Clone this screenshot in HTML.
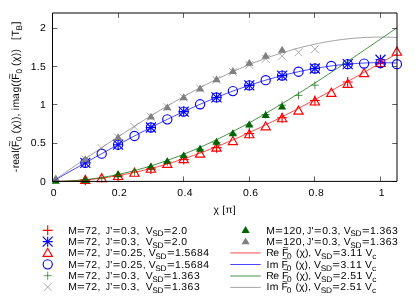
<!DOCTYPE html>
<html><head><meta charset="utf-8"><title>plot</title>
<style>
html,body{margin:0;padding:0;background:#fff;}
svg{display:block;will-change:transform;}
text{font-family:"Liberation Sans",sans-serif;white-space:pre;text-rendering:geometricPrecision;}
</style></head>
<body>
<svg width="415" height="297" viewBox="0 0 415 297" xml:space="preserve">
<rect width="415" height="297" fill="#fff"/>
<g stroke="#000" fill="none">
<path d="M52.5 181.4v-5M52.5 13v5M118.5 13v5M183.5 181.4v-5M183.5 13v5M249.5 181.4v-5M249.5 13v5M314.5 181.4v-5M314.5 13v5M380.5 181.4v-5M380.5 13v5M52.5 181.5h4.8M397 181.5h-4.8M52.5 143.5h4.8M397 143.5h-4.8M52.5 104.5h4.8M397 104.5h-4.8M52.5 66.5h4.8M397 66.5h-4.8M52.5 28.5h4.8M397 28.5h-4.8" stroke-width="0.62"/>
</g>
<g fill="none" stroke-width="1.15">
<path d="M80.3 180.13h10M85.3 175.13v10" stroke="#ff0000"/>
<path d="M113.1 175.98h10M118.1 170.98v10" stroke="#ff0000"/>
<path d="M145.9 169.05h10M150.9 164.05v10" stroke="#ff0000"/>
<path d="M178.7 159.53h10M183.7 154.53v10" stroke="#ff0000"/>
<path d="M211.5 147.66h10M216.5 142.66v10" stroke="#ff0000"/>
<path d="M244.3 133.53h10M249.3 128.53v10" stroke="#ff0000"/>
<path d="M277.1 117.7h10M282.1 112.7v10" stroke="#ff0000"/>
<path d="M309.9 100.54h10M314.9 95.54v10" stroke="#ff0000"/>
<path d="M342.7 81.97h10M347.7 76.97v10" stroke="#ff0000"/>
<path d="M375.5 63.44h10M380.5 58.44v10" stroke="#ff0000"/>
<path d="M80.3 162.83h10M85.3 157.83v10" stroke="#0000ff"/><path d="M80.3 157.83l10 10M80.3 167.83l10 -10" stroke="#0000ff"/>
<path d="M113.1 144.71h10M118.1 139.71v10" stroke="#0000ff"/><path d="M113.1 139.71l10 10M113.1 149.71l10 -10" stroke="#0000ff"/>
<path d="M145.9 127.5h10M150.9 122.5v10" stroke="#0000ff"/><path d="M145.9 122.5l10 10M145.9 132.5l10 -10" stroke="#0000ff"/>
<path d="M178.7 111.61h10M183.7 106.61v10" stroke="#0000ff"/><path d="M178.7 106.61l10 10M178.7 116.61l10 -10" stroke="#0000ff"/>
<path d="M211.5 97.45h10M216.5 92.45v10" stroke="#0000ff"/><path d="M211.5 92.45l10 10M211.5 102.45l10 -10" stroke="#0000ff"/>
<path d="M244.3 85.35h10M249.3 80.35v10" stroke="#0000ff"/><path d="M244.3 80.35l10 10M244.3 90.35l10 -10" stroke="#0000ff"/>
<path d="M277.1 75.61h10M282.1 70.61v10" stroke="#0000ff"/><path d="M277.1 70.61l10 10M277.1 80.61l10 -10" stroke="#0000ff"/>
<path d="M309.9 68.48h10M314.9 63.48v10" stroke="#0000ff"/><path d="M309.9 63.48l10 10M309.9 73.48l10 -10" stroke="#0000ff"/>
<path d="M342.7 64.13h10M347.7 59.13v10" stroke="#0000ff"/><path d="M342.7 59.13l10 10M342.7 69.13l10 -10" stroke="#0000ff"/>
<path d="M375.5 59.76h10M380.5 54.76v10" stroke="#0000ff"/><path d="M375.5 54.76l10 10M375.5 64.76l10 -10" stroke="#0000ff"/>
<path d="M85.3 175.42L80.65 183.52L89.95 183.52Z" stroke="#ff0000"/>
<path d="M101.7 173.58L97.05 181.68L106.35 181.68Z" stroke="#ff0000"/>
<path d="M118.1 171.43L113.45 179.53L122.75 179.53Z" stroke="#ff0000"/>
<path d="M134.5 168.14L129.85 176.24L139.15 176.24Z" stroke="#ff0000"/>
<path d="M150.9 164.16L146.25 172.26L155.55 172.26Z" stroke="#ff0000"/>
<path d="M167.3 159.33L162.65 167.43L171.95 167.43Z" stroke="#ff0000"/>
<path d="M183.7 154.51L179.05 162.61L188.35 162.61Z" stroke="#ff0000"/>
<path d="M200.1 148.99L195.45 157.09L204.75 157.09Z" stroke="#ff0000"/>
<path d="M216.5 143.02L211.85 151.12L221.15 151.12Z" stroke="#ff0000"/>
<path d="M232.9 136.58L228.25 144.68L237.55 144.68Z" stroke="#ff0000"/>
<path d="M249.3 129.69L244.65 137.79L253.95 137.79Z" stroke="#ff0000"/>
<path d="M265.7 121.8L261.05 129.9L270.35 129.9Z" stroke="#ff0000"/>
<path d="M282.1 113.6L277.45 121.7L286.75 121.7Z" stroke="#ff0000"/>
<path d="M298.5 106.09L293.85 114.19L303.15 114.19Z" stroke="#ff0000"/>
<path d="M314.9 96.9L310.25 105L319.55 105Z" stroke="#ff0000"/>
<path d="M331.3 88.25L326.65 96.35L335.95 96.35Z" stroke="#ff0000"/>
<path d="M347.7 79.28L343.05 87.38L352.35 87.38Z" stroke="#ff0000"/>
<path d="M364.1 68.56L359.45 76.66L368.75 76.66Z" stroke="#ff0000"/>
<path d="M380.5 58.37L375.85 66.47L385.15 66.47Z" stroke="#ff0000"/>
<path d="M396.9 47.11L392.25 55.21L401.55 55.21Z" stroke="#ff0000"/>
<circle cx="85.3" cy="162.83" r="4.6" stroke="#0000ff"/>
<circle cx="101.7" cy="153.68" r="4.6" stroke="#0000ff"/>
<circle cx="118.1" cy="144.71" r="4.6" stroke="#0000ff"/>
<circle cx="134.5" cy="135.96" r="4.6" stroke="#0000ff"/>
<circle cx="150.9" cy="127.5" r="4.6" stroke="#0000ff"/>
<circle cx="167.3" cy="119.36" r="4.6" stroke="#0000ff"/>
<circle cx="183.7" cy="111.61" r="4.6" stroke="#0000ff"/>
<circle cx="200.1" cy="104.29" r="4.6" stroke="#0000ff"/>
<circle cx="216.5" cy="97.45" r="4.6" stroke="#0000ff"/>
<circle cx="232.9" cy="91.12" r="4.6" stroke="#0000ff"/>
<circle cx="249.3" cy="85.35" r="4.6" stroke="#0000ff"/>
<circle cx="265.7" cy="80.17" r="4.6" stroke="#0000ff"/>
<circle cx="282.1" cy="75.61" r="4.6" stroke="#0000ff"/>
<circle cx="298.5" cy="71.71" r="4.6" stroke="#0000ff"/>
<circle cx="314.9" cy="68.48" r="4.6" stroke="#0000ff"/>
<circle cx="331.3" cy="65.95" r="4.6" stroke="#0000ff"/>
<circle cx="347.7" cy="64.13" r="4.6" stroke="#0000ff"/>
<circle cx="364.1" cy="63.59" r="4.6" stroke="#0000ff"/>
<circle cx="380.5" cy="63.05" r="4.6" stroke="#0000ff"/>
<circle cx="396.9" cy="64.2" r="4.6" stroke="#0000ff"/>
<path d="M81.3 180.63h8M85.3 176.63v8" stroke="#006400" stroke-width="0.65"/>
<path d="M97.7 178.57h8M101.7 174.57v8" stroke="#006400" stroke-width="0.65"/>
<path d="M114.1 175.04h8M118.1 171.04v8" stroke="#006400" stroke-width="0.65"/>
<path d="M130.5 171.9h8M134.5 167.9v8" stroke="#006400" stroke-width="0.65"/>
<path d="M146.9 167.38h8M150.9 163.38v8" stroke="#006400" stroke-width="0.65"/>
<path d="M163.3 161.94h8M167.3 157.94v8" stroke="#006400" stroke-width="0.65"/>
<path d="M179.7 156.2h8M183.7 152.2v8" stroke="#006400" stroke-width="0.65"/>
<path d="M196.1 149.61h8M200.1 145.61v8" stroke="#006400" stroke-width="0.65"/>
<path d="M212.5 142.53h8M216.5 138.53v8" stroke="#006400" stroke-width="0.65"/>
<path d="M228.9 134.06h8M232.9 130.06v8" stroke="#006400" stroke-width="0.65"/>
<path d="M245.3 125.33h8M249.3 121.33v8" stroke="#006400" stroke-width="0.65"/>
<path d="M261.7 114.53h8M265.7 110.53v8" stroke="#006400" stroke-width="0.65"/>
<path d="M278.1 105.18h8M282.1 101.18v8" stroke="#006400" stroke-width="0.65"/>
<path d="M294.5 95.38h8M298.5 91.38v8" stroke="#006400" stroke-width="0.65"/>
<path d="M310.9 85.19h8M314.9 81.19v8" stroke="#006400" stroke-width="0.65"/>
<path d="M81.3 155.34l8 8M81.3 163.34l8 -8" stroke="#808080" stroke-width="0.65"/>
<path d="M97.7 144.31l8 8M97.7 152.31l8 -8" stroke="#808080" stroke-width="0.65"/>
<path d="M114.1 133.58l8 8M114.1 141.58l8 -8" stroke="#808080" stroke-width="0.65"/>
<path d="M130.5 122.86l8 8M130.5 130.86l8 -8" stroke="#808080" stroke-width="0.65"/>
<path d="M146.9 112.83l8 8M146.9 120.83l8 -8" stroke="#808080" stroke-width="0.65"/>
<path d="M163.3 103.1l8 8M163.3 111.1l8 -8" stroke="#808080" stroke-width="0.65"/>
<path d="M179.7 93.52l8 8M179.7 101.52l8 -8" stroke="#808080" stroke-width="0.65"/>
<path d="M196.1 84.56l8 8M196.1 92.56l8 -8" stroke="#808080" stroke-width="0.65"/>
<path d="M212.5 75.91l8 8M212.5 83.91l8 -8" stroke="#808080" stroke-width="0.65"/>
<path d="M228.9 67.86l8 8M228.9 75.86l8 -8" stroke="#808080" stroke-width="0.65"/>
<path d="M245.3 60.97l8 8M245.3 68.97l8 -8" stroke="#808080" stroke-width="0.65"/>
<path d="M261.7 54.84l8 8M261.7 62.84l8 -8" stroke="#808080" stroke-width="0.65"/>
<path d="M278.1 52.16l8 8M278.1 60.16l8 -8" stroke="#808080" stroke-width="0.65"/>
<path d="M294.5 48.33l8 8M294.5 56.33l8 -8" stroke="#808080" stroke-width="0.65"/>
<path d="M310.9 45.19l8 8M310.9 53.19l8 -8" stroke="#808080" stroke-width="0.65"/>
<path d="M55.78 176.95L51.66 183.83L59.9 183.83Z" fill="#006400" stroke="none"/>
<path d="M85.3 176.1L81.18 182.99L89.42 182.99Z" fill="#006400" stroke="none"/>
<path d="M118.1 170.28L113.98 177.17L122.22 177.17Z" fill="#006400" stroke="none"/>
<path d="M150.9 162.62L146.78 169.51L155.02 169.51Z" fill="#006400" stroke="none"/>
<path d="M167.3 157.18L163.18 164.07L171.42 164.07Z" fill="#006400" stroke="none"/>
<path d="M183.7 151.44L179.58 158.32L187.82 158.32Z" fill="#006400" stroke="none"/>
<path d="M200.1 144.85L195.98 151.74L204.22 151.74Z" fill="#006400" stroke="none"/>
<path d="M216.5 137.77L212.38 144.65L220.62 144.65Z" fill="#006400" stroke="none"/>
<path d="M232.9 129.3L228.78 136.19L237.02 136.19Z" fill="#006400" stroke="none"/>
<path d="M249.3 120.57L245.18 127.45L253.42 127.45Z" fill="#006400" stroke="none"/>
<path d="M265.7 111.07L261.58 117.96L269.82 117.96Z" fill="#006400" stroke="none"/>
<path d="M282.1 102.72L277.98 109.61L286.22 109.61Z" fill="#006400" stroke="none"/>
<path d="M55.78 174.5L51.66 181.38L59.9 181.38Z" fill="#808080" stroke="none"/>
<path d="M85.3 155.27L81.18 162.15L89.42 162.15Z" fill="#808080" stroke="none"/>
<path d="M118.1 133.36L113.98 140.25L122.22 140.25Z" fill="#808080" stroke="none"/>
<path d="M150.9 112.68L146.78 119.56L155.02 119.56Z" fill="#808080" stroke="none"/>
<path d="M167.3 103.41L163.18 110.3L171.42 110.3Z" fill="#808080" stroke="none"/>
<path d="M183.7 93.3L179.58 100.18L187.82 100.18Z" fill="#808080" stroke="none"/>
<path d="M200.1 84.49L195.98 91.38L204.22 91.38Z" fill="#808080" stroke="none"/>
<path d="M216.5 75.37L212.38 82.26L220.62 82.26Z" fill="#808080" stroke="none"/>
<path d="M232.9 67.1L228.78 73.99L237.02 73.99Z" fill="#808080" stroke="none"/>
<path d="M249.3 58.83L245.18 65.71L253.42 65.71Z" fill="#808080" stroke="none"/>
<path d="M265.7 51.78L261.58 58.67L269.82 58.67Z" fill="#808080" stroke="none"/>
<path d="M282.1 45.81L277.98 52.69L286.22 52.69Z" fill="#808080" stroke="none"/>
<polyline points="52.5,181.4 55.78,181.39 59.06,181.34 62.34,181.27 65.62,181.17 68.9,181.04 72.18,180.87 75.46,180.69 78.74,180.47 82.02,180.22 85.3,179.94 88.58,179.64 91.86,179.3 95.14,178.94 98.42,178.55 101.7,178.13 104.98,177.68 108.26,177.21 111.54,176.7 114.82,176.17 118.1,175.61 121.38,175.02 124.66,174.4 127.94,173.76 131.22,173.09 134.5,172.39 137.78,171.67 141.06,170.91 144.34,170.14 147.62,169.33 150.9,168.5 154.18,167.64 157.46,166.76 160.74,165.85 164.02,164.92 167.3,163.96 170.58,162.98 173.86,161.97 177.14,160.94 180.42,159.88 183.7,158.8 186.98,157.69 190.26,156.57 193.54,155.41 196.82,154.24 200.1,153.04 203.38,151.83 206.66,150.59 209.94,149.32 213.22,148.04 216.5,146.74 219.78,145.41 223.06,144.07 226.34,142.7 229.62,141.32 232.9,139.91 236.18,138.49 239.46,137.05 242.74,135.59 246.02,134.11 249.3,132.62 252.58,131.1 255.86,129.57 259.14,128.03 262.42,126.47 265.7,124.89 268.98,123.3 272.26,121.69 275.54,120.07 278.82,118.43 282.1,116.78 285.38,115.12 288.66,113.44 291.94,111.75 295.22,110.05 298.5,108.34 301.78,106.62 305.06,104.89 308.34,103.14 311.62,101.39 314.9,99.62 318.18,97.85 321.46,96.07 324.74,94.28 328.02,92.48 331.3,90.68 334.58,88.87 337.86,87.05 341.14,85.23 344.42,83.4 347.7,81.57 350.98,79.73 354.26,77.89 357.54,76.04 360.82,74.19 364.1,72.34 367.38,70.48 370.66,68.63 373.94,66.77 377.22,64.91 380.5,63.05 383.78,61.19 387.06,59.34 390.34,57.48 393.62,55.62 396.9,53.77" stroke="#ff0000" stroke-width="0.72" fill="none"/>
<polyline points="52.5,181.4 55.78,179.54 59.06,177.67 62.34,175.81 65.62,173.94 68.9,172.08 72.18,170.23 75.46,168.37 78.74,166.52 82.02,164.67 85.3,162.83 88.58,160.99 91.86,159.15 95.14,157.32 98.42,155.5 101.7,153.68 104.98,151.87 108.26,150.07 111.54,148.28 114.82,146.49 118.1,144.71 121.38,142.94 124.66,141.18 127.94,139.43 131.22,137.69 134.5,135.96 137.78,134.25 141.06,132.54 144.34,130.85 147.62,129.17 150.9,127.5 154.18,125.84 157.46,124.2 160.74,122.57 164.02,120.96 167.3,119.36 170.58,117.78 173.86,116.21 177.14,114.66 180.42,113.13 183.7,111.61 186.98,110.11 190.26,108.63 193.54,107.16 196.82,105.72 200.1,104.29 203.38,102.88 206.66,101.49 209.94,100.12 213.22,98.77 216.5,97.45 219.78,96.14 223.06,94.85 226.34,93.58 229.62,92.34 232.9,91.12 236.18,89.92 239.46,88.74 242.74,87.58 246.02,86.45 249.3,85.35 252.58,84.26 255.86,83.2 259.14,82.16 262.42,81.15 265.7,80.17 268.98,79.2 272.26,78.27 275.54,77.36 278.82,76.47 282.1,75.61 285.38,74.78 288.66,73.97 291.94,73.19 295.22,72.43 298.5,71.71 301.78,71.01 305.06,70.33 308.34,69.69 311.62,69.07 314.9,68.48 318.18,67.92 321.46,67.38 324.74,66.88 328.02,66.4 331.3,65.95 334.58,65.53 337.86,65.14 341.14,64.77 344.42,64.44 347.7,64.13 350.98,63.85 354.26,63.61 357.54,63.39 360.82,63.2 364.1,63.04 367.38,62.9 370.66,62.8 373.94,62.73 377.22,62.68 380.5,62.67 383.78,62.68 387.06,62.73 390.34,62.8 393.62,62.9 396.9,63.04" stroke="#0000ff" stroke-width="0.72" fill="none"/>
<polyline points="52.5,181.4 55.78,181.38 59.06,181.33 62.34,181.24 65.62,181.12 68.9,180.96 72.18,180.77 75.46,180.54 78.74,180.28 82.02,179.98 85.3,179.65 88.58,179.28 91.86,178.88 95.14,178.44 98.42,177.97 101.7,177.47 104.98,176.93 108.26,176.36 111.54,175.75 114.82,175.11 118.1,174.43 121.38,173.73 124.66,172.99 127.94,172.21 131.22,171.41 134.5,170.57 137.78,169.69 141.06,168.79 144.34,167.85 147.62,166.89 150.9,165.89 154.18,164.86 157.46,163.8 160.74,162.7 164.02,161.58 167.3,160.43 170.58,159.24 173.86,158.03 177.14,156.79 180.42,155.52 183.7,154.22 186.98,152.89 190.26,151.53 193.54,150.15 196.82,148.74 200.1,147.3 203.38,145.84 206.66,144.34 209.94,142.83 213.22,141.28 216.5,139.71 219.78,138.12 223.06,136.5 226.34,134.86 229.62,133.2 232.9,131.51 236.18,129.8 239.46,128.06 242.74,126.31 246.02,124.53 249.3,122.73 252.58,120.91 255.86,119.07 259.14,117.22 262.42,115.34 265.7,113.44 268.98,111.53 272.26,109.59 275.54,107.64 278.82,105.67 282.1,103.69 285.38,101.69 288.66,99.68 291.94,97.65 295.22,95.6 298.5,93.54 301.78,91.47 305.06,89.38 308.34,87.29 311.62,85.18 314.9,83.06 318.18,80.93 321.46,78.78 324.74,76.63 328.02,74.47 331.3,72.3 334.58,70.12 337.86,67.94 341.14,65.75 344.42,63.55 347.7,61.34 350.98,59.13 354.26,56.91 357.54,54.69 360.82,52.47 364.1,50.24 367.38,48.01 370.66,45.78 373.94,43.55 377.22,41.31 380.5,39.08 383.78,36.84 387.06,34.61 390.34,32.37 393.62,30.14 396.9,27.91" stroke="#006400" stroke-width="0.72" fill="none"/>
<polyline points="52.5,181.4 55.78,179.13 59.06,176.87 62.34,174.6 65.62,172.34 68.9,170.08 72.18,167.82 75.46,165.56 78.74,163.31 82.02,161.07 85.3,158.82 88.58,156.59 91.86,154.36 95.14,152.13 98.42,149.92 101.7,147.71 104.98,145.51 108.26,143.32 111.54,141.14 114.82,138.97 118.1,136.8 121.38,134.65 124.66,132.52 127.94,130.39 131.22,128.27 134.5,126.17 137.78,124.09 141.06,122.01 144.34,119.95 147.62,117.91 150.9,115.88 154.18,113.87 157.46,111.88 160.74,109.9 164.02,107.94 167.3,106 170.58,104.07 173.86,102.17 177.14,100.28 180.42,98.42 183.7,96.57 186.98,94.75 190.26,92.95 193.54,91.17 196.82,89.41 200.1,87.68 203.38,85.96 206.66,84.27 209.94,82.61 213.22,80.97 216.5,79.35 219.78,77.76 223.06,76.2 226.34,74.66 229.62,73.15 232.9,71.66 236.18,70.2 239.46,68.77 242.74,67.37 246.02,65.99 249.3,64.65 252.58,63.33 255.86,62.04 259.14,60.78 262.42,59.55 265.7,58.35 268.98,57.18 272.26,56.04 275.54,54.94 278.82,53.86 282.1,52.81 285.38,51.8 288.66,50.82 291.94,49.87 295.22,48.95 298.5,48.07 301.78,47.22 305.06,46.4 308.34,45.62 311.62,44.87 314.9,44.15 318.18,43.47 321.46,42.82 324.74,42.2 328.02,41.62 331.3,41.07 334.58,40.56 337.86,40.08 341.14,39.64 344.42,39.23 347.7,38.86 350.98,38.53 354.26,38.22 357.54,37.96 360.82,37.73 364.1,37.53 367.38,37.37 370.66,37.25 373.94,37.16 377.22,37.1 380.5,37.09 383.78,37.1 387.06,37.16 390.34,37.25 393.62,37.37 396.9,37.53" stroke="#808080" stroke-width="0.72" fill="none"/>
</g>
<g stroke="#000" stroke-width="1" fill="none">
<path d="M52.5 13V181.4H397V13Z"/>
</g>
<text transform="translate(53.7,195.7) scale(1.03,1)" fill="#000"><tspan x="-2.81" y="0" font-size="10.1">0</tspan></text>
<text transform="translate(119.3,195.7) scale(1.03,1)" fill="#000"><tspan x="-7.36 -1.41 1.62" y="0" font-size="10.1">0.2</tspan></text>
<text transform="translate(184.9,195.7) scale(1.03,1)" fill="#000"><tspan x="-7.36 -1.41 1.74" y="0" font-size="10.1">0.4</tspan></text>
<text transform="translate(250.5,195.7) scale(1.03,1)" fill="#000"><tspan x="-7.36 -1.41 1.74" y="0" font-size="10.1">0.6</tspan></text>
<text transform="translate(316.1,195.7) scale(1.03,1)" fill="#000"><tspan x="-7.36 -1.41 1.74" y="0" font-size="10.1">0.8</tspan></text>
<text transform="translate(381.7,195.7) scale(1.03,1)" fill="#000"><tspan x="-2.86" y="0" font-size="10.1">1</tspan></text>
<text transform="translate(46.1,184.55) scale(1.03,1)" fill="#000"><tspan x="-5.85" y="0" font-size="10.1">0</tspan></text>
<text transform="translate(46.1,146.25) scale(1.03,1)" fill="#000"><tspan x="-14.95 -9 -5.88" y="0" font-size="10.1">0.5</tspan></text>
<text transform="translate(46.1,107.95) scale(1.03,1)" fill="#000"><tspan x="-5.9" y="0" font-size="10.1">1</tspan></text>
<text transform="translate(46.1,69.65) scale(1.03,1)" fill="#000"><tspan x="-15 -9 -5.88" y="0" font-size="10.1">1.5</tspan></text>
<text transform="translate(46.1,31.35) scale(1.03,1)" fill="#000"><tspan x="-5.97" y="0" font-size="10.1">2</tspan></text>
<text transform="translate(224.6,213) scale(1.03,1)" fill="#000"><tspan x="-10.76 -5.24 -2.24 0.86 7.98" y="0" font-size="10.1">χ [π]</tspan></text>
<text transform="translate(19.2,96.8) rotate(-90) scale(1,1)" fill="#000"><tspan x="-75.34 -71.48 -67.9 -62.42 -56.07 -53.72 -50.31" y="0" font-size="10.4">-real(F</tspan><tspan x="-44.25" y="2.8" font-size="8.32">0</tspan><tspan x="-39.43 -36.6 -32.71 -26.83 -23.1 -19.8 -16.67 -13.53 -10.7 -2.08 4.19 10.04 13.76 17.16" y="0" font-size="10.4"> (χ)), imag((F</tspan><tspan x="23.23" y="2.8" font-size="8.32">0</tspan><tspan x="28.05 30.88 34.77 40.65 44.37 47.78 50.81 53.85 56.84 60.28" y="0" font-size="10.4"> (χ))   [T</tspan><tspan x="66.2" y="2.8" font-size="8.32">B</tspan><tspan x="72.41" y="0" font-size="10.4">]</tspan></text>
<g fill="none" stroke-width="1.15">
<path d="M42.7 230.3h10M47.7 225.3v10" stroke="#ff0000"/>
<path d="M42.7 241.65h10M47.7 236.65v10" stroke="#0000ff"/><path d="M42.7 236.65l10 10M42.7 246.65l10 -10" stroke="#0000ff"/>
<path d="M47.7 248.3L43.05 256.4L52.35 256.4Z" stroke="#ff0000"/>
<circle cx="47.7" cy="264.35" r="4.6" stroke="#0000ff"/>
<path d="M43.7 275.7h8M47.7 271.7v8" stroke="#006400" stroke-width="0.65"/>
<path d="M43.7 283.05l8 8M43.7 291.05l8 -8" stroke="#808080" stroke-width="0.65"/>
<path d="M245.6 226.09L241.48 232.98L249.72 232.98Z" fill="#006400" stroke="none"/>
<path d="M245.6 237.44L241.48 244.33L249.72 244.33Z" fill="#808080" stroke="none"/>
<path d="M230.3 252.95H260.7" stroke="#ff0000" stroke-width="0.72"/>
<path d="M230.3 264.5H260.7" stroke="#0000ff" stroke-width="0.72"/>
<path d="M230.3 276H260.7" stroke="#006400" stroke-width="0.72"/>
<path d="M230.3 287.4H260.7" stroke="#808080" stroke-width="0.72"/>
</g>
<text transform="translate(68.3,233.65) scale(1.03,1)" fill="#000"><tspan x="-0.09" y="0" font-size="10.1">M</tspan><tspan x="16.44 22.4 28.39 31.52 34.56" y="0" font-size="10.1">72,  </tspan><tspan x="40.64" y="0" font-size="10.1">'</tspan><tspan x="51.14 57.09 60.25 66.1 69.24 72.27 75.08" y="0" font-size="10.1">0.3,  V</tspan><tspan x="81.49 86.6" y="2.8" font-size="8.08">SD</tspan><tspan x="100.54 106.62 109.77" y="0" font-size="10.1">2.0</tspan></text><text transform="translate(68.3,233.65) scale(1.2875,1)" fill="#000"><tspan x="6.84" y="0" font-size="10.1">=</tspan><tspan x="34.58" y="0" font-size="10.1">=</tspan><tspan x="74.21" y="0" font-size="10.1">=</tspan></text><text transform="translate(68.3,233.65) scale(0.824,1)" fill="#000"><tspan x="45.48" y="0" font-size="10.1">J</tspan></text>
<text transform="translate(68.3,245) scale(1.03,1)" fill="#000"><tspan x="-0.09" y="0" font-size="10.1">M</tspan><tspan x="16.44 22.4 28.39 31.52 34.56" y="0" font-size="10.1">72,  </tspan><tspan x="40.64" y="0" font-size="10.1">'</tspan><tspan x="51.14 57.09 60.25 66.1 69.24 72.27 75.08" y="0" font-size="10.1">0.3,  V</tspan><tspan x="81.49 86.6" y="2.8" font-size="8.08">SD</tspan><tspan x="100.54 106.62 109.77" y="0" font-size="10.1">2.0</tspan></text><text transform="translate(68.3,245) scale(1.2875,1)" fill="#000"><tspan x="6.84" y="0" font-size="10.1">=</tspan><tspan x="34.58" y="0" font-size="10.1">=</tspan><tspan x="74.21" y="0" font-size="10.1">=</tspan></text><text transform="translate(68.3,245) scale(0.824,1)" fill="#000"><tspan x="45.48" y="0" font-size="10.1">J</tspan></text>
<text transform="translate(68.3,256.35) scale(1.03,1)" fill="#000"><tspan x="-0.09" y="0" font-size="10.1">M</tspan><tspan x="16.44 22.4 28.39 31.52 34.56" y="0" font-size="10.1">72,  </tspan><tspan x="40.64" y="0" font-size="10.1">'</tspan><tspan x="51.14 57.09 60.12 66.28 72.18 75.31 78.12" y="0" font-size="10.1">0.25, V</tspan><tspan x="84.53 89.64" y="2.8" font-size="8.08">SD</tspan><tspan x="103.65 109.66 112.77 118.88 124.95 131.02" y="0" font-size="10.1">1.5684</tspan></text><text transform="translate(68.3,256.35) scale(1.2875,1)" fill="#000"><tspan x="6.84" y="0" font-size="10.1">=</tspan><tspan x="34.58" y="0" font-size="10.1">=</tspan><tspan x="76.64" y="0" font-size="10.1">=</tspan></text><text transform="translate(68.3,256.35) scale(0.824,1)" fill="#000"><tspan x="45.48" y="0" font-size="10.1">J</tspan></text>
<text transform="translate(68.3,267.7) scale(1.03,1)" fill="#000"><tspan x="-0.09" y="0" font-size="10.1">M</tspan><tspan x="16.44 22.4 28.39 31.52 34.56" y="0" font-size="10.1">72,  </tspan><tspan x="40.64" y="0" font-size="10.1">'</tspan><tspan x="51.14 57.09 60.12 66.28 72.18 75.31 78.12" y="0" font-size="10.1">0.25, V</tspan><tspan x="84.53 89.64" y="2.8" font-size="8.08">SD</tspan><tspan x="103.65 109.66 112.77 118.88 124.95 131.02" y="0" font-size="10.1">1.5684</tspan></text><text transform="translate(68.3,267.7) scale(1.2875,1)" fill="#000"><tspan x="6.84" y="0" font-size="10.1">=</tspan><tspan x="34.58" y="0" font-size="10.1">=</tspan><tspan x="76.64" y="0" font-size="10.1">=</tspan></text><text transform="translate(68.3,267.7) scale(0.824,1)" fill="#000"><tspan x="45.48" y="0" font-size="10.1">J</tspan></text>
<text transform="translate(68.3,279.05) scale(1.03,1)" fill="#000"><tspan x="-0.09" y="0" font-size="10.1">M</tspan><tspan x="16.44 22.4 28.39 31.52 34.56" y="0" font-size="10.1">72,  </tspan><tspan x="40.64" y="0" font-size="10.1">'</tspan><tspan x="51.14 57.09 60.25 66.1 69.24 72.27 75.08" y="0" font-size="10.1">0.3,  V</tspan><tspan x="81.49 86.6" y="2.8" font-size="8.08">SD</tspan><tspan x="100.61 106.62 109.78 115.84 121.93" y="0" font-size="10.1">1.363</tspan></text><text transform="translate(68.3,279.05) scale(1.2875,1)" fill="#000"><tspan x="6.84" y="0" font-size="10.1">=</tspan><tspan x="34.58" y="0" font-size="10.1">=</tspan><tspan x="74.21" y="0" font-size="10.1">=</tspan></text><text transform="translate(68.3,279.05) scale(0.824,1)" fill="#000"><tspan x="45.48" y="0" font-size="10.1">J</tspan></text>
<text transform="translate(68.3,290.4) scale(1.03,1)" fill="#000"><tspan x="-0.09" y="0" font-size="10.1">M</tspan><tspan x="16.44 22.4 28.39 31.52 34.56" y="0" font-size="10.1">72,  </tspan><tspan x="40.64" y="0" font-size="10.1">'</tspan><tspan x="51.14 57.09 60.25 66.1 69.24 72.27 75.08" y="0" font-size="10.1">0.3,  V</tspan><tspan x="81.49 86.6" y="2.8" font-size="8.08">SD</tspan><tspan x="100.61 106.62 109.78 115.84 121.93" y="0" font-size="10.1">1.363</tspan></text><text transform="translate(68.3,290.4) scale(1.2875,1)" fill="#000"><tspan x="6.84" y="0" font-size="10.1">=</tspan><tspan x="34.58" y="0" font-size="10.1">=</tspan><tspan x="74.21" y="0" font-size="10.1">=</tspan></text><text transform="translate(68.3,290.4) scale(0.824,1)" fill="#000"><tspan x="45.48" y="0" font-size="10.1">J</tspan></text>
<text transform="translate(266.4,233.65) scale(1.03,1)" fill="#000"><tspan x="-0.09" y="0" font-size="10.1">M</tspan><tspan x="16.4 22.4 28.6 34.46 37.59" y="0" font-size="10.1">120, </tspan><tspan x="43.68" y="0" font-size="10.1">'</tspan><tspan x="54.17 60.13 63.29 69.14 72.27 75.09" y="0" font-size="10.1">0.3, V</tspan><tspan x="81.49 86.6" y="2.8" font-size="8.08">SD</tspan><tspan x="100.62 106.63 109.79 115.85 121.93" y="0" font-size="10.1">1.363</tspan></text><text transform="translate(266.4,233.65) scale(1.2875,1)" fill="#000"><tspan x="6.84" y="0" font-size="10.1">=</tspan><tspan x="37.01" y="0" font-size="10.1">=</tspan><tspan x="74.21" y="0" font-size="10.1">=</tspan></text><text transform="translate(266.4,233.65) scale(0.824,1)" fill="#000"><tspan x="49.28" y="0" font-size="10.1">J</tspan></text>
<text transform="translate(266.4,245) scale(1.03,1)" fill="#000"><tspan x="-0.09" y="0" font-size="10.1">M</tspan><tspan x="16.4 22.4 28.6 34.46 37.59" y="0" font-size="10.1">120, </tspan><tspan x="43.68" y="0" font-size="10.1">'</tspan><tspan x="54.17 60.13 63.29 69.14 72.27 75.09" y="0" font-size="10.1">0.3, V</tspan><tspan x="81.49 86.6" y="2.8" font-size="8.08">SD</tspan><tspan x="100.62 106.63 109.79 115.85 121.93" y="0" font-size="10.1">1.363</tspan></text><text transform="translate(266.4,245) scale(1.2875,1)" fill="#000"><tspan x="6.84" y="0" font-size="10.1">=</tspan><tspan x="37.01" y="0" font-size="10.1">=</tspan><tspan x="74.21" y="0" font-size="10.1">=</tspan></text><text transform="translate(266.4,245) scale(0.824,1)" fill="#000"><tspan x="49.28" y="0" font-size="10.1">J</tspan></text>
<text transform="translate(266.4,256.35) scale(1.03,1)" fill="#000"><tspan x="-0.18 6.78 12.62 15.18" y="0" font-size="10.1">Re F</tspan><tspan x="20.04" y="2.8" font-size="8.08">0</tspan><tspan x="25.8 28.65 32.17 37.42 40.73 43.86 46.67" y="0" font-size="10.1"> (χ), V</tspan><tspan x="53.08 58.19" y="2.8" font-size="8.08">SD</tspan><tspan x="72.27 78.21 81.31 87.38 93.39 96.21" y="0" font-size="10.1">3.11 V</tspan><tspan x="102.83" y="2.8" font-size="8.08">c</tspan></text><text transform="translate(266.4,256.35) scale(1.2875,1)" fill="#000"><tspan x="51.48" y="0" font-size="10.1">=</tspan></text>
<text transform="translate(266.4,267.7) scale(1.03,1)" fill="#000"><tspan x="0 3.28 12.23 14.78" y="0" font-size="10.1">Im F</tspan><tspan x="19.65" y="2.8" font-size="8.08">0</tspan><tspan x="25.41 28.26 31.78 37.03 40.34 43.47 46.28" y="0" font-size="10.1"> (χ), V</tspan><tspan x="52.69 57.8" y="2.8" font-size="8.08">SD</tspan><tspan x="71.88 77.82 80.92 86.99 93 95.82" y="0" font-size="10.1">3.11 V</tspan><tspan x="102.44" y="2.8" font-size="8.08">c</tspan></text><text transform="translate(266.4,267.7) scale(1.2875,1)" fill="#000"><tspan x="51.17" y="0" font-size="10.1">=</tspan></text>
<text transform="translate(266.4,279.05) scale(1.03,1)" fill="#000"><tspan x="-0.18 6.78 12.62 15.18" y="0" font-size="10.1">Re F</tspan><tspan x="20.04" y="2.8" font-size="8.08">0</tspan><tspan x="25.8 28.65 32.17 37.42 40.73 43.86 46.67" y="0" font-size="10.1"> (χ), V</tspan><tspan x="53.08 58.19" y="2.8" font-size="8.08">SD</tspan><tspan x="72.13 78.21 81.32 87.38 93.39 96.21" y="0" font-size="10.1">2.51 V</tspan><tspan x="102.83" y="2.8" font-size="8.08">c</tspan></text><text transform="translate(266.4,279.05) scale(1.2875,1)" fill="#000"><tspan x="51.48" y="0" font-size="10.1">=</tspan></text>
<text transform="translate(266.4,290.4) scale(1.03,1)" fill="#000"><tspan x="0 3.28 12.23 14.78" y="0" font-size="10.1">Im F</tspan><tspan x="19.65" y="2.8" font-size="8.08">0</tspan><tspan x="25.41 28.26 31.78 37.03 40.34 43.47 46.28" y="0" font-size="10.1"> (χ), V</tspan><tspan x="52.69 57.8" y="2.8" font-size="8.08">SD</tspan><tspan x="71.74 77.82 80.93 86.99 93 95.82" y="0" font-size="10.1">2.51 V</tspan><tspan x="102.44" y="2.8" font-size="8.08">c</tspan></text><text transform="translate(266.4,290.4) scale(1.2875,1)" fill="#000"><tspan x="51.17" y="0" font-size="10.1">=</tspan></text>
<text transform="translate(285.43,247.45)" x="-2.92" y="3.32" font-size="10">~</text>
<text transform="translate(285.02,258.8)" x="-2.92" y="3.32" font-size="10">~</text>
<text transform="translate(285.43,270.15)" x="-2.92" y="3.32" font-size="10">~</text>
<text transform="translate(285.02,281.5)" x="-2.92" y="3.32" font-size="10">~</text>
<text transform="translate(9.9,143.72) rotate(-90)" x="-2.92" y="3.32" font-size="10">~</text>
<text transform="translate(9.9,76.24) rotate(-90)" x="-2.92" y="3.32" font-size="10">~</text>
</svg>
</body></html>
